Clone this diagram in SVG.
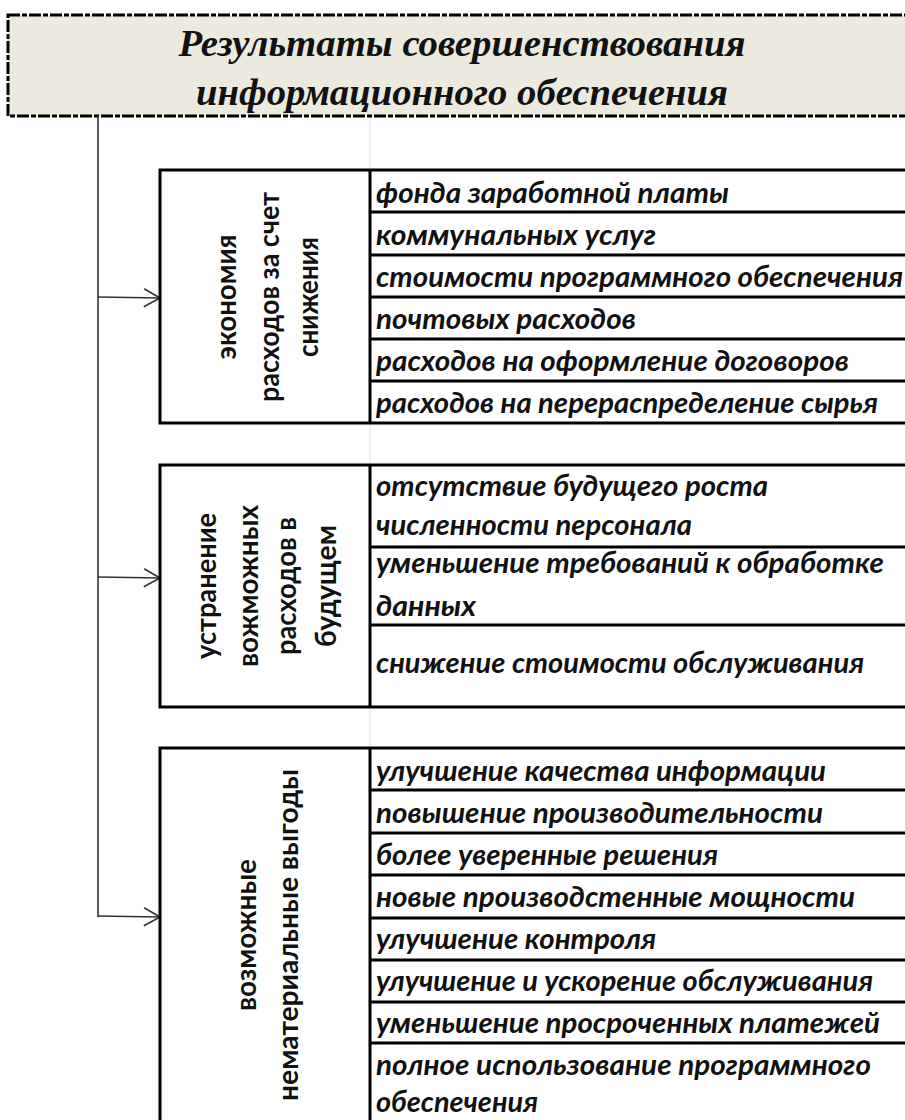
<svg xmlns="http://www.w3.org/2000/svg" width="905" height="1120" viewBox="0 0 905 1120">
<defs>
<style>
.hdr{font-family:"Liberation Serif",serif;font-weight:bold;font-style:italic;font-size:37px;fill:#111;text-anchor:middle}
.it{font-family:Lato,"Liberation Sans",sans-serif;font-weight:bold;font-style:italic;font-size:28px;fill:#111}
.vt{font-family:Lato,"Liberation Sans",sans-serif;font-weight:bold;font-size:28px;fill:#111;text-anchor:middle}
.box{fill:#fff;stroke:#000;stroke-width:3}
.sep{stroke:#000;stroke-width:3;fill:none}
.con{stroke:#333;stroke-width:1.6;fill:none}
.grid{stroke:#dde3ee;stroke-width:1.2}
</style>
<marker id="arr" markerWidth="22" markerHeight="22" refX="17" refY="10" orient="auto" markerUnits="userSpaceOnUse">
<path d="M1,1 L17,10 L1,19" fill="none" stroke="#333" stroke-width="1.6"/>
</marker>
</defs>
<rect width="905" height="1120" fill="#fff"/>
<line class="grid" x1="370" y1="116" x2="370" y2="1120"/>

<g id="header">
<rect x="8" y="15" width="905" height="101" fill="#ECE9DF" stroke="#000" stroke-width="3" stroke-dasharray="12 2 5 2"/>
<text class="hdr" x="462" y="56" textLength="567" lengthAdjust="spacingAndGlyphs">Результаты совершенствования</text>
<text class="hdr" x="462" y="105" textLength="532" lengthAdjust="spacingAndGlyphs">информационного обеспечения</text>
</g>

<g id="connectors">
<polyline class="con" points="98,116 98,917"/>
<line class="con" x1="98" y1="297" x2="160" y2="298" marker-end="url(#arr)"/>
<line class="con" x1="98" y1="577" x2="160" y2="578" marker-end="url(#arr)"/>
<line class="con" x1="98" y1="916" x2="160" y2="917" marker-end="url(#arr)"/>
</g>

<g id="group1">
<rect class="box" x="160" y="170" width="760" height="253"/>
<line class="sep" x1="370" y1="170" x2="370" y2="423"/>
<line class="sep" x1="370" y1="212" x2="910" y2="212"/>
<line class="sep" x1="370" y1="255" x2="910" y2="255"/>
<line class="sep" x1="370" y1="297" x2="910" y2="297"/>
<line class="sep" x1="370" y1="339" x2="910" y2="339"/>
<line class="sep" x1="370" y1="381" x2="910" y2="381"/>
<g transform="translate(0,297) rotate(-90)">
<text class="vt" x="0" y="236" textLength="125" lengthAdjust="spacingAndGlyphs">экономия</text>
<text class="vt" x="0" y="279" textLength="210" lengthAdjust="spacingAndGlyphs">расходов за счет</text>
<text class="vt" x="0" y="318" textLength="120" lengthAdjust="spacingAndGlyphs">снижения</text>
</g>
<text class="it" x="376" y="203" textLength="353" lengthAdjust="spacingAndGlyphs">фонда заработной платы</text>
<text class="it" x="376" y="245" textLength="280" lengthAdjust="spacingAndGlyphs">коммунальных услуг</text>
<text class="it" x="376" y="287" textLength="527" lengthAdjust="spacingAndGlyphs">стоимости программного обеспечения</text>
<text class="it" x="376" y="329" textLength="260" lengthAdjust="spacingAndGlyphs">почтовых расходов</text>
<text class="it" x="376" y="371" textLength="473" lengthAdjust="spacingAndGlyphs">расходов на оформление договоров</text>
<text class="it" x="376" y="413" textLength="502" lengthAdjust="spacingAndGlyphs">расходов на перераспределение сырья</text>
</g>

<g id="group2">
<rect class="box" x="160" y="465" width="760" height="242"/>
<line class="sep" x1="370" y1="465" x2="370" y2="707"/>
<line class="sep" x1="370" y1="547" x2="910" y2="547"/>
<line class="sep" x1="370" y1="625" x2="910" y2="625"/>
<g transform="translate(0,586) rotate(-90)">
<text class="vt" x="0" y="216" textLength="146" lengthAdjust="spacingAndGlyphs">устранение</text>
<text class="vt" x="0" y="258" textLength="162" lengthAdjust="spacingAndGlyphs">вожможных</text>
<text class="vt" x="0" y="296" textLength="138" lengthAdjust="spacingAndGlyphs">расходов в</text>
<text class="vt" x="0" y="336" textLength="122" lengthAdjust="spacingAndGlyphs">будущем</text>
</g>
<text class="it" x="376" y="496" textLength="392" lengthAdjust="spacingAndGlyphs">отсутствие будущего роста</text>
<text class="it" x="376" y="535" textLength="316" lengthAdjust="spacingAndGlyphs">численности персонала</text>
<text class="it" x="376" y="573" textLength="508" lengthAdjust="spacingAndGlyphs">уменьшение требований к обработке</text>
<text class="it" x="376" y="616" textLength="100" lengthAdjust="spacingAndGlyphs">данных</text>
<text class="it" x="376" y="673" textLength="488" lengthAdjust="spacingAndGlyphs">снижение стоимости обслуживания</text>
</g>

<g id="group3">
<rect class="box" x="160" y="748" width="760" height="400"/>
<line class="sep" x1="370" y1="748" x2="370" y2="1125"/>
<line class="sep" x1="370" y1="790" x2="910" y2="790"/>
<line class="sep" x1="370" y1="833" x2="910" y2="833"/>
<line class="sep" x1="370" y1="875" x2="910" y2="875"/>
<line class="sep" x1="370" y1="918" x2="910" y2="918"/>
<line class="sep" x1="370" y1="960" x2="910" y2="960"/>
<line class="sep" x1="370" y1="1002" x2="910" y2="1002"/>
<line class="sep" x1="370" y1="1043" x2="910" y2="1043"/>
<g transform="translate(0,935) rotate(-90)">
<text class="vt" x="0" y="256" textLength="152" lengthAdjust="spacingAndGlyphs">возможные</text>
<text class="vt" x="0" y="298" textLength="332" lengthAdjust="spacingAndGlyphs">нематериальные выгоды</text>
</g>
<text class="it" x="376" y="781" textLength="450" lengthAdjust="spacingAndGlyphs">улучшение качества информации</text>
<text class="it" x="376" y="823" textLength="447" lengthAdjust="spacingAndGlyphs">повышение производительности</text>
<text class="it" x="376" y="865" textLength="342" lengthAdjust="spacingAndGlyphs">более уверенные решения</text>
<text class="it" x="376" y="907" textLength="479" lengthAdjust="spacingAndGlyphs">новые производстенные мощности</text>
<text class="it" x="376" y="949" textLength="280" lengthAdjust="spacingAndGlyphs">улучшение контроля</text>
<text class="it" x="376" y="991" textLength="497" lengthAdjust="spacingAndGlyphs">улучшение и ускорение обслуживания</text>
<text class="it" x="376" y="1033" textLength="504" lengthAdjust="spacingAndGlyphs">уменьшение просроченных платежей</text>
<text class="it" x="376" y="1075" textLength="495" lengthAdjust="spacingAndGlyphs">полное использование программного</text>
<text class="it" x="376" y="1112" textLength="162" lengthAdjust="spacingAndGlyphs">обеспечения</text>
</g>
</svg>
